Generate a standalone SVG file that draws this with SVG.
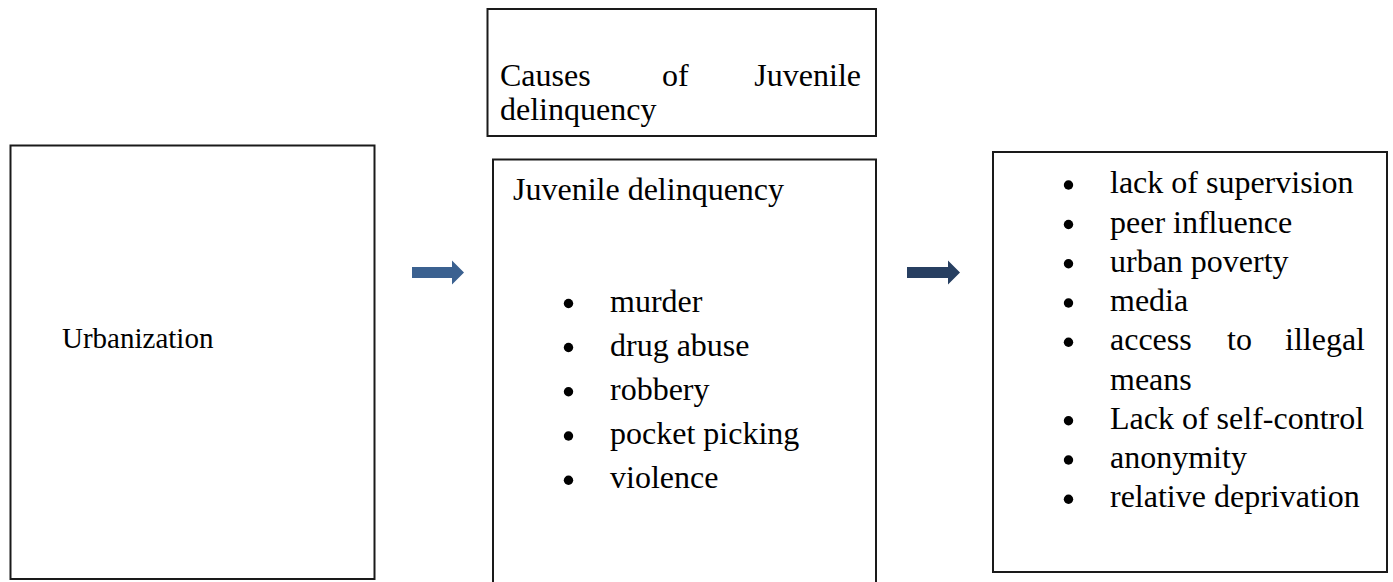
<svg xmlns="http://www.w3.org/2000/svg" width="1393" height="582" viewBox="0 0 1393 582">
<style>
.box{fill:#fff;stroke:#1a1a1a;stroke-width:2}
.t{font-family:"Liberation Serif","Times New Roman",serif;font-size:32px;fill:#000}
.u{font-family:"Liberation Serif","Times New Roman",serif;font-size:29px;fill:#000}
.b{fill:#000}
</style>
<rect width="1393" height="582" fill="#fff"/>
<g id="urbanization">
<rect class="box" x="10.5" y="145.5" width="364" height="433.5"/>
<text class="u" x="62" y="348">Urbanization</text>
</g>
<g id="causes-title">
<rect class="box" x="487.5" y="9" width="388.5" height="127"/>
<text class="t" x="500" y="86">Causes</text>
<text class="t" x="662" y="86">of</text>
<text class="t" x="861" y="86" text-anchor="end">Juvenile</text>
<text class="t" x="500" y="120">delinquency</text>
</g>
<g id="juvenile-delinquency">
<rect class="box" x="493" y="159.5" width="383" height="440"/>
<text class="t" x="513" y="199.5">Juvenile delinquency</text>
<circle class="b" cx="568.5" cy="303.5" r="4.7"/><text class="t" x="610" y="311.5">murder</text>
<circle class="b" cx="568.5" cy="347.5" r="4.7"/><text class="t" x="610" y="355.7">drug abuse</text>
<circle class="b" cx="568.5" cy="391.8" r="4.7"/><text class="t" x="610" y="400">robbery</text>
<circle class="b" cx="568.5" cy="436" r="4.7"/><text class="t" x="610" y="444.2">pocket picking</text>
<circle class="b" cx="568.5" cy="480.2" r="4.7"/><text class="t" x="610" y="488.4">violence</text>
</g>
<g id="causes-list">
<rect class="box" x="993" y="152" width="394" height="420"/>
<circle class="b" cx="1068.5" cy="185" r="4.7"/><text class="t" x="1110" y="193.3">lack of supervision</text>
<circle class="b" cx="1068.5" cy="224.5" r="4.7"/><text class="t" x="1110" y="232.6">peer influence</text>
<circle class="b" cx="1068.5" cy="263.8" r="4.7"/><text class="t" x="1110" y="271.9">urban poverty</text>
<circle class="b" cx="1068.5" cy="303" r="4.7"/><text class="t" x="1110" y="311.1">media</text>
<circle class="b" cx="1068.5" cy="342.3" r="4.7"/><text class="t" x="1110" y="350.4">access</text><text class="t" x="1227" y="350.4">to</text><text class="t" x="1365" y="350.4" text-anchor="end">illegal</text>
<text class="t" x="1110" y="389.6">means</text>
<circle class="b" cx="1068.5" cy="420.8" r="4.7"/><text class="t" x="1110" y="428.9">Lack of self-control</text>
<circle class="b" cx="1068.5" cy="460" r="4.7"/><text class="t" x="1110" y="468.1">anonymity</text>
<circle class="b" cx="1068.5" cy="499.3" r="4.7"/><text class="t" x="1110" y="507.4">relative deprivation</text>
</g>
<g id="connectors">
<polygon fill="#3b6190" points="412,267 452,267 452,260.5 464,272.5 452,284.5 452,278 412,278"/>
<polygon fill="#273f61" points="907,267 948,267 948,260.5 960,272.5 948,284.5 948,278 907,278"/>
</g>
</svg>
